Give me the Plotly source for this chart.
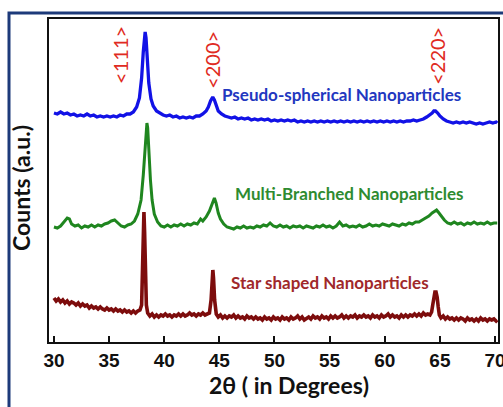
import plotly.graph_objects as go

# ---------------- data (2θ in degrees, counts in arbitrary units) ----------------
star_x = [30.0, 30.2, 30.4, 30.6, 30.8, 31.0, 31.2, 31.4, 31.6, 31.8, 32.0, 32.2, 32.4, 32.6, 32.8,
          33.0, 33.2, 33.4, 33.6, 33.8, 34.0, 34.2, 34.4, 34.6, 34.8, 35.0, 35.2, 35.4, 35.6, 35.8,
          36.0, 36.2, 36.4, 36.6, 36.8, 37.0, 37.2, 37.4, 37.6, 37.8, 37.95, 38.05, 38.1, 38.16, 38.22,
          38.28, 38.38, 38.5, 38.7, 38.9, 39.1, 39.3, 39.5, 39.7, 39.9, 40.1, 40.3, 40.5, 40.7, 40.9,
          41.1, 41.3, 41.5, 41.7, 41.9, 42.1, 42.3, 42.5, 42.7, 42.9, 43.1, 43.3, 43.5, 43.7, 43.9,
          44.1, 44.25, 44.35, 44.41, 44.47, 44.57, 44.72, 44.9, 45.1, 45.3, 45.5, 45.7, 45.9, 46.1, 46.3,
          46.5, 46.7, 46.9, 47.1, 47.3, 47.5, 47.7, 47.9, 48.1, 48.3, 48.5, 48.7, 48.9, 49.1, 49.3,
          49.5, 49.7, 49.9, 50.1, 50.3, 50.5, 50.7, 50.9, 51.1, 51.3, 51.5, 51.7, 51.9, 52.1, 52.3,
          52.5, 52.7, 52.9, 53.1, 53.3, 53.5, 53.7, 53.9, 54.1, 54.3, 54.5, 54.7, 54.9, 55.1, 55.3,
          55.5, 55.7, 55.9, 56.1, 56.3, 56.5, 56.7, 56.9, 57.1, 57.3, 57.5, 57.7, 57.9, 58.1, 58.3,
          58.5, 58.7, 58.9, 59.1, 59.3, 59.5, 59.7, 59.9, 60.1, 60.3, 60.5, 60.7, 60.9, 61.1, 61.3,
          61.5, 61.7, 61.9, 62.1, 62.3, 62.5, 62.7, 62.9, 63.1, 63.3, 63.5, 63.7, 63.9, 64.1, 64.25,
          64.35, 64.45, 64.55, 64.65, 64.75, 64.85, 64.95, 65.1, 65.3, 65.5, 65.7, 65.9, 66.1, 66.3,
          66.5, 66.7, 66.9, 67.1, 67.3, 67.5, 67.7, 67.9, 68.1, 68.3, 68.5, 68.7, 68.9, 69.1, 69.3,
          69.5, 69.7, 69.9, 70.1, 70.2]
star_y = [44, 41, 43, 40, 42, 39, 41, 38, 40, 39, 37, 39, 36, 38, 36,
          37, 34, 36, 34, 35, 33, 35, 33, 32, 34, 32, 33, 31, 33, 31,
          32, 30, 32, 30, 31, 29, 31, 29, 31, 32, 37, 72, 107, 130, 110,
          70, 37, 29, 26, 28, 25, 27, 25, 27, 26, 28, 26, 27, 25, 27,
          26, 28, 26, 28, 26, 27, 29, 27, 28, 26, 28, 27, 29, 27, 28,
          29, 42, 64, 72, 64, 42, 28, 25, 27, 24, 26, 24, 26, 25, 27,
          24, 26, 24, 25, 23, 26, 24, 25, 23, 25, 23, 24, 22, 25, 23,
          24, 22, 25, 23, 24, 22, 25, 23, 24, 22, 25, 23, 24, 26, 23,
          25, 22, 24, 25, 23, 26, 24, 25, 23, 26, 24, 25, 23, 26, 24,
          26, 24, 25, 27, 24, 26, 24, 26, 25, 27, 24, 26, 25, 27, 25,
          26, 24, 27, 25, 26, 24, 27, 25, 26, 28, 25, 27, 25, 26, 24,
          27, 25, 27, 25, 27, 26, 28, 26, 28, 26, 29, 27, 28, 27, 30,
          37, 47, 50, 50, 45, 35, 27, 24, 26, 23, 25, 23, 24, 22,
          24, 22, 24, 23, 21, 24, 22, 23, 21, 23, 21, 24, 22, 23, 21,
          23, 22, 23, 21, 22]

branched_x = [30.0, 30.3, 30.6, 30.9, 31.2, 31.4, 31.6, 31.9, 32.2, 32.5, 32.8, 33.1, 33.4, 33.7, 34.0,
              34.3, 34.6, 34.9, 35.2, 35.5, 35.8, 36.1, 36.4, 36.7, 37.0, 37.3, 37.6, 37.9, 38.1, 38.25,
              38.35, 38.43, 38.5, 38.6, 38.75, 38.9, 39.1, 39.4, 39.7, 40.0, 40.3, 40.6, 40.9, 41.2, 41.5,
              41.8, 42.1, 42.4, 42.7, 43.0, 43.3, 43.5, 43.8, 44.1, 44.35, 44.55, 44.7, 44.9, 45.1, 45.4,
              45.7, 46.0, 46.3, 46.6, 46.9, 47.2, 47.5, 47.8, 48.1, 48.4, 48.7, 49.0, 49.3, 49.6, 49.9,
              50.2, 50.5, 50.8, 51.1, 51.4, 51.7, 52.0, 52.3, 52.6, 52.9, 53.2, 53.5, 53.8, 54.1, 54.4,
              54.7, 55.0, 55.3, 55.6, 55.9, 56.2, 56.5, 56.8, 57.1, 57.4, 57.7, 58.0, 58.3, 58.6, 58.9,
              59.2, 59.5, 59.8, 60.1, 60.4, 60.7, 61.0, 61.3, 61.6, 61.9, 62.2, 62.5, 62.8, 63.1, 63.4,
              63.7, 64.0, 64.3, 64.55, 64.7, 64.85, 65.1, 65.4, 65.7, 66.0, 66.3, 66.6, 66.9, 67.2, 67.5,
              67.8, 68.1, 68.4, 68.7, 69.0, 69.3, 69.6, 69.9, 70.2]
branched_y = [115, 114, 116, 120, 124, 123, 118, 116, 117, 114, 116, 115, 117, 115, 117,
              116, 118, 119, 121, 122, 119, 116, 115, 117, 118, 121, 128, 142, 167, 194,
              212, 219, 214, 192, 162, 142, 128, 120, 116, 115, 117, 115, 117, 116, 118,
              116, 118, 117, 119, 118, 123, 121, 125, 131, 139, 144, 139, 129, 123, 118,
              115, 114, 113, 115, 114, 116, 114, 115, 114, 116, 115, 117, 116, 119, 116,
              115, 117, 115, 116, 114, 116, 115, 116, 114, 116, 115, 114, 116, 115, 117,
              115, 116, 114, 116, 120, 116, 117, 115, 116, 115, 117, 115, 116, 118, 116,
              117, 116, 118, 117, 116, 118, 117, 116, 118, 117, 119, 118, 120, 120, 122,
              124, 126, 129, 131, 132, 130, 126, 122, 119, 118, 120, 118, 119, 117, 119,
              118, 120, 118, 119, 118, 120, 118, 119, 119]

spherical_x = [30.0, 30.3, 30.6, 30.9, 31.2, 31.5, 31.8, 32.1, 32.4, 32.7, 33.0, 33.3, 33.6, 33.9, 34.2,
               34.5, 34.8, 35.1, 35.4, 35.7, 36.0, 36.3, 36.6, 36.9, 37.2, 37.5, 37.75, 37.95, 38.1, 38.2,
               38.27, 38.35, 38.45, 38.6, 38.8, 39.0, 39.3, 39.6, 39.9, 40.2, 40.5, 40.8, 41.1, 41.4, 41.7,
               42.0, 42.3, 42.6, 42.9, 43.2, 43.5, 43.8, 44.0, 44.2, 44.4, 44.55, 44.7, 44.9, 45.2, 45.5,
               45.8, 46.1, 46.4, 46.7, 47.0, 47.3, 47.6, 47.9, 48.2, 48.5, 48.8, 49.1, 49.4, 49.7, 50.0,
               50.3, 50.6, 50.9, 51.2, 51.5, 51.8, 52.1, 52.4, 52.7, 53.0, 53.3, 53.6, 53.9, 54.2, 54.5,
               54.8, 55.1, 55.4, 55.7, 56.0, 56.3, 56.6, 56.9, 57.2, 57.5, 57.8, 58.1, 58.4, 58.7, 59.0,
               59.3, 59.6, 59.9, 60.2, 60.5, 60.8, 61.1, 61.4, 61.7, 62.0, 62.3, 62.6, 62.9, 63.2, 63.5,
               63.8, 64.1, 64.3, 64.45, 64.6, 64.8, 65.0, 65.3, 65.6, 65.9, 66.2, 66.5, 66.8, 67.1, 67.4,
               67.7, 68.0, 68.3, 68.6, 68.9, 69.2, 69.5, 69.8, 70.1, 70.2]
spherical_y = [229, 228, 230, 228, 229, 227, 228, 226, 227, 226, 228, 226, 227, 225, 226,
               225, 226, 225, 226, 225, 227, 226, 228, 228, 230, 235, 244, 264, 290, 307,
               310, 304, 285, 259, 243, 236, 231, 229, 227, 226, 227, 225, 226, 224, 225,
               224, 225, 224, 226, 226, 228, 231, 235, 241, 245, 242, 236, 231, 228, 226,
               225, 224, 225, 223, 224, 223, 224, 222, 223, 222, 223, 222, 223, 221, 222,
               221, 222, 221, 222, 221, 222, 220, 221, 220, 221, 220, 221, 220, 221, 220,
               221, 220, 221, 220, 221, 220, 221, 220, 221, 220, 221, 220, 221, 220, 221,
               220, 221, 220, 221, 220, 221, 220, 221, 220, 221, 221, 222, 221, 222, 223,
               225, 227, 229, 231, 231, 229, 226, 223, 221, 220, 219, 220, 219, 220, 219,
               220, 219, 218, 219, 218, 219, 220, 219, 220, 219]

series_names = ["Star shaped Nanoparticles", "Multi-Branched Nanoparticles", "Pseudo-spherical Nanoparticles"]
series_colors = ["#7d0c0c", "#1f861f", "#1212e6"]
label_colors = ["#a0282a", "#2e8b30", "#2237c0"]
label_x = [55.0, 56.8, 56.1]
label_y = [60, 149, 248]

miller_labels = ["<111>", "<200>", "<220>"]
miller_x = [35.98, 44.32, 64.72]
miller_y = [287, 282, 286]

x_ticks = [30, 35, 40, 45, 50, 55, 60, 65, 70]

# ---------------- figure ----------------
fig = go.Figure()
data = [(star_x, star_y), (branched_x, branched_y), (spherical_x, spherical_y)]
widths = [3.6, 3.0, 3.3]
for (xs, ys), name, col, w in zip(data, series_names, series_colors, widths):
    fig.add_trace(go.Scatter(x=xs, y=ys, mode="lines", name=name,
                             line=dict(color=col, width=w, shape="linear"),
                             showlegend=False, hoverinfo="skip"))

for name, col, lx, ly in zip(series_names, label_colors, label_x, label_y):
    fig.add_annotation(x=lx, y=ly, xref="x", yref="y", text=name, showarrow=False,
                       xanchor="center", yanchor="middle",
                       font=dict(family="Lato", size=17, color=col, weight="bold"))

for t, mx, my in zip(miller_labels, miller_x, miller_y):
    fig.add_annotation(x=mx, y=my, xref="x", yref="y", text=t.replace("<", "&lt;").replace(">", "&gt;"),
                       showarrow=False, textangle=-90, xanchor="center", yanchor="middle",
                       font=dict(family="Lato", size=20, color="#e02a22"))

# axis titles
fig.add_annotation(x=(289 - 49) / 449, y=-(385 - 342) / 323, xref="paper", yref="paper",
                   text="2θ ( in Degrees)", showarrow=False, xanchor="center", yanchor="middle",
                   font=dict(family="Lato", size=23, color="#111111", weight="bold"))
fig.add_annotation(x=(21 - 49) / 449, y=(342 - 188) / 323, xref="paper", yref="paper",
                   text="Counts (a.u.)", showarrow=False, textangle=-90, xanchor="center", yanchor="middle",
                   font=dict(family="Lato", size=23, color="#111111", weight="bold"))

# outer dark-blue frame
fig.add_shape(type="rect", xref="paper", yref="paper",
              x0=(9 - 49) / 449, x1=1.06, y0=-0.3, y1=1 + (19 - 13) / 323,
              line=dict(color="#1d3a7a", width=3), fillcolor="rgba(0,0,0,0)", layer="above")

fig.update_layout(
    width=503, height=407,
    margin=dict(l=49, r=5, t=19, b=65),
    paper_bgcolor="white", plot_bgcolor="white",
    xaxis=dict(range=[29.55, 70.27], tickvals=x_ticks, ticktext=[str(v) for v in x_ticks],
               ticks="inside", ticklen=6, tickwidth=2, tickcolor="#111111",
               showline=True, linecolor="#111111", linewidth=2, mirror=True,
               showgrid=False, zeroline=False, automargin=False, ticklabeloverflow="allow",
               tickfont=dict(family="Liberation Sans", size=19, color="#111111", weight="bold")),
    yaxis=dict(range=[0, 323], showticklabels=False, ticks="", automargin=False,
               showline=True, linecolor="#111111", linewidth=2, mirror=True,
               showgrid=False, zeroline=False),
)

fig.write_html("out.html", config={"displayModeBar": False},
               post_script="document.body.style.margin='0';document.body.style.overflow='hidden';")
